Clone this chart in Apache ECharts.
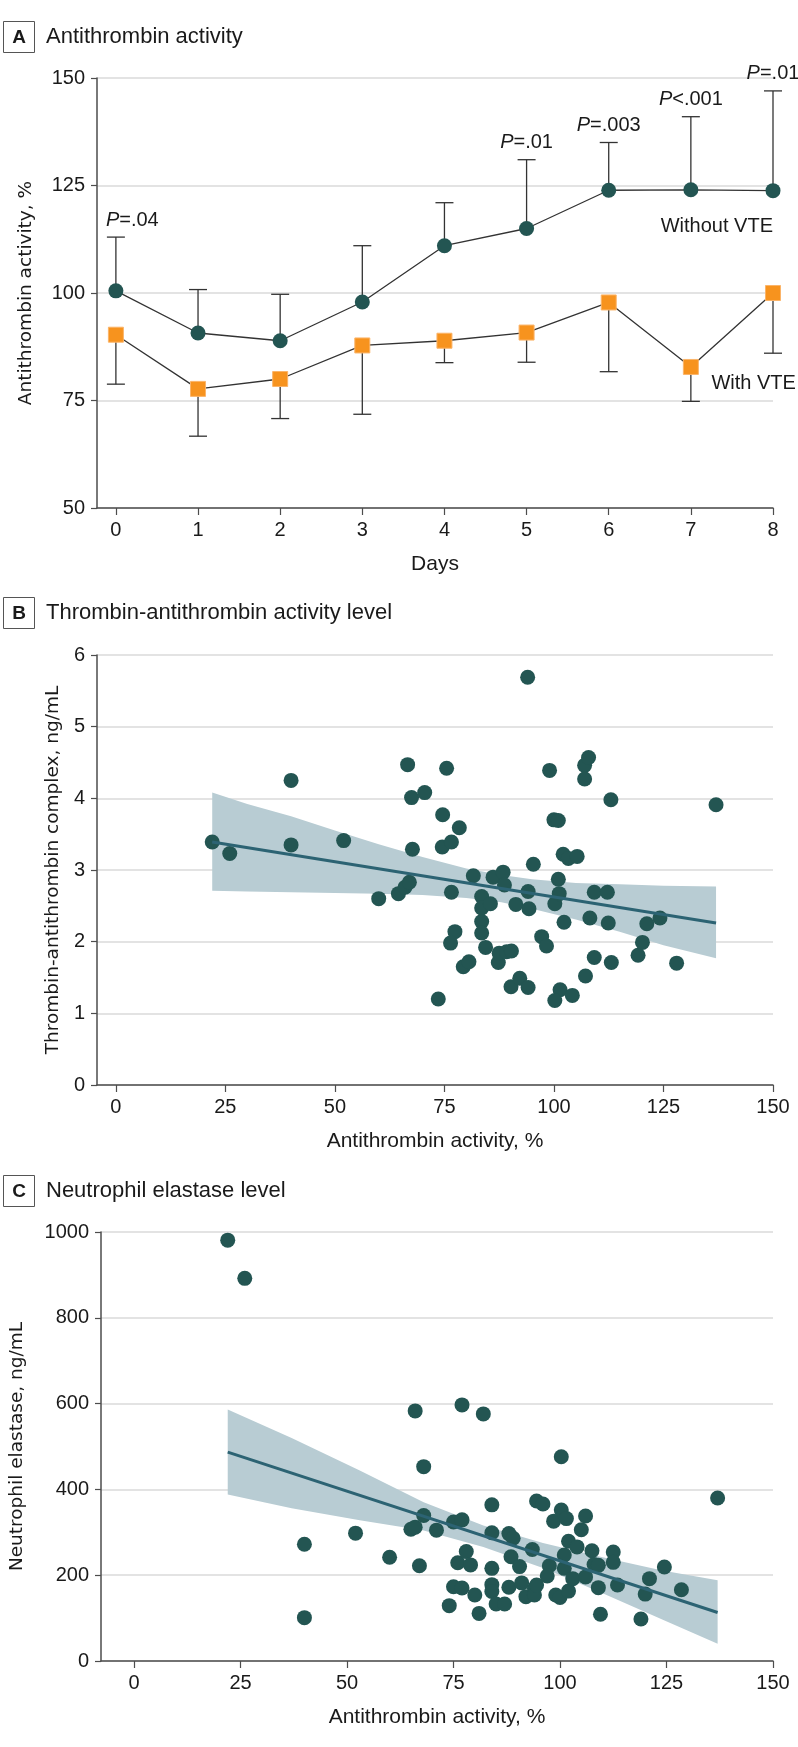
<!DOCTYPE html>
<html><head><meta charset="utf-8">
<script src="https://cdn.jsdelivr.net/npm/echarts@6/dist/echarts.min.js"></script>
<style>html,body{margin:0;padding:0;background:#fff}#c{width:798px;height:1747px}</style>
</head><body><div id="c"></div>
<script>
// ---------- Panel A: antithrombin activity by day ----------
const days = [0, 1, 2, 3, 4, 5, 6, 7, 8];
const withoutVTE = [100.5, 90.7, 88.9, 97.9, 111, 115, 123.9, 124, 123.8];
const withoutVTEUpper = [113, 100.8, 99.7, 111, 121, 131, 135, 141, 147];
const withVTE = [90.3, 77.7, 80, 87.8, 88.9, 90.8, 97.8, 82.8, 100];
const withVTELower = [78.8, 66.7, 70.8, 71.8, 83.8, 83.9, 81.7, 74.8, 86];
const pDays = [0, 5, 6, 7, 8];
const pLabels = ['P=.04', 'P=.01', 'P=.003', 'P<.001', 'P=.01'];
const dayTicks = [0, 1, 2, 3, 4, 5, 6, 7, 8];

// ---------- Panel B: thrombin-antithrombin complex ----------
const tatX = [22, 26, 40, 40, 52, 60, 64.5, 66, 67, 66.6, 67.5, 67.7, 70.5, 73.6, 74.6, 74.5, 75.5, 76.6, 76.6, 77.4, 76.4,
  78.4, 79.3, 80.6, 81.6, 83.5, 83.5, 83.5, 83.5, 85.5, 84.4, 86.1, 88.4, 88.7, 87.3, 87.5, 89.2, 90.3, 90.2, 91.3,
  92.2, 94, 94.1, 94.3, 94.1, 95.3, 97.2, 98.3, 99, 100, 101, 100.2, 101, 101.2, 101.4, 100.2, 102.3, 102.1, 103.3,
  105.3, 104.2, 107, 107.9, 107, 107.2, 109.2, 108.2, 109.2, 112.2, 112.4, 113, 113.1, 119.2, 120.2, 121.2, 124.2, 128, 137];
const tatY = [3.39, 3.23, 4.25, 3.35, 3.41, 2.60, 2.67, 2.76, 2.83, 4.47, 4.01, 3.29, 4.08, 1.20, 3.77, 3.32, 4.42, 3.39, 2.69, 2.14, 1.98,
  3.59, 1.65, 1.72, 2.92, 2.63, 2.47, 2.28, 2.12, 2.53, 1.92, 2.90, 2.97, 2.79, 1.71, 1.84, 1.86, 1.87, 1.37, 2.52,
  1.49, 5.69, 2.70, 2.46, 1.36, 3.08, 2.07, 1.94, 4.39, 3.70, 3.69, 2.53, 2.87, 2.67, 1.33, 1.18, 2.27, 3.22, 3.16,
  3.19, 1.25, 4.46, 4.57, 4.27, 1.52, 2.69, 2.33, 1.78, 2.69, 2.26, 3.98, 1.71, 1.81, 1.99, 2.25, 2.33, 1.70, 3.91];
const tatFitX = [22, 137];
const tatFitY = [3.39, 2.26];
const tatBandX = [22, 30, 40, 50, 60, 70, 80, 88, 95, 105, 115, 125, 137];
const tatBandLo = [2.71, 2.70, 2.69, 2.68, 2.67, 2.65, 2.61, 2.55, 2.46, 2.31, 2.14, 1.95, 1.77];
const tatBandHi = [4.08, 3.92, 3.75, 3.55, 3.36, 3.18, 3.02, 2.93, 2.87, 2.82, 2.80, 2.78, 2.77];
const bTicks = [0, 25, 50, 75, 100, 125, 150];

// ---------- Panel C: neutrophil elastase ----------
const neX = [22, 26, 40, 40, 52, 60, 65, 66, 66, 67, 68, 68, 71, 74, 75, 75, 76, 77, 77, 77, 78, 79, 80, 81, 82,
  84, 84, 84, 84, 84, 85, 87, 88, 89, 88.5, 88, 90.5, 91, 92, 93.5, 94, 94, 94.5, 96, 94.5, 97.5, 97, 98.5, 99, 100,
  100.3, 100.3, 101, 101, 101.5, 102, 102, 103, 104, 105, 106, 106, 107.5, 108, 109, 109, 109.5, 112.5, 112.5, 113.5,
  119, 120, 121, 124.5, 128.5, 137];
const neY = [981, 892, 272, 101, 298, 242, 307, 312, 583, 222, 339, 453, 305, 129, 324, 173, 229, 329, 170, 597, 255, 224, 154, 111, 576,
  364, 299, 216, 178, 162, 133, 133, 297, 286, 243, 172, 220, 182, 150, 260, 169, 154, 373, 366, 177, 222, 198, 326, 154, 148,
  352, 476, 247, 216, 332, 279, 163, 192, 266, 306, 196, 338, 257, 225, 223, 171, 109, 254, 230, 177,
  98, 156, 192, 219, 166, 380];
const neFitX = [22, 137];
const neFitY = [487, 113];
const neBandX = [22, 37, 53, 68, 82, 96, 110, 124, 137];
const neBandLo = [388, 356, 328, 304, 266, 217, 158, 97, 40];
const neBandHi = [586, 520, 444, 370, 316, 275, 242, 211, 188];
const cTicks = [0, 25, 50, 75, 100, 125, 150];

// ---------- styling ----------
const TEAL = '#235552';
const FIT = '#2c6373';
const BAND = '#b8ccd3';
const ORANGE = '#f7931e';
const TXT = '#1a1a1a';
const AX = '#4d4d4d';
const GRID = '#dadada';
const SANS = '"Liberation Sans", Arial, sans-serif';
const WIDE = '"DejaVu Sans", Verdana, sans-serif';

const grids = [
  { left: 97, right: 25, top: 78, height: 430 },
  { left: 97, right: 25, top: 655, height: 430 },
  { left: 97, right: 25, top: 1232, height: 429 }
];

function xAxisCfg(gi, min, max, ticks, name) {
  return {
    type: 'value', gridIndex: gi, min: min, max: max,
    axisLine: { show: true, onZero: false, lineStyle: { color: AX, width: 1.5 } },
    axisTick: { show: true, customValues: ticks, length: 7, lineStyle: { color: AX, width: 1.2 } },
    axisLabel: { customValues: ticks, fontFamily: SANS, fontSize: 20, color: TXT, margin: 12 },
    splitLine: { show: false },
    name: name, nameLocation: 'middle', nameGap: 46,
    nameTextStyle: { fontFamily: SANS, fontSize: 21, color: TXT }
  };
}
function yAxisCfg(gi, min, max, interval, name, gap) {
  return {
    type: 'value', gridIndex: gi, min: min, max: max, interval: interval,
    axisLine: { show: true, onZero: false, lineStyle: { color: AX, width: 1.5 } },
    axisTick: { show: true, length: 6, lineStyle: { color: AX, width: 1.2 } },
    axisLabel: { fontFamily: SANS, fontSize: 20, color: TXT, margin: 12, formatter: function (v) { return String(v); } },
    splitLine: { show: true, lineStyle: { color: GRID, width: 1.5 } },
    name: name, nameLocation: 'middle', nameGap: gap,
    nameTextStyle: { fontFamily: WIDE, fontSize: 18.5, color: TXT }
  };
}

function bandSeries(gi, bx, lo, hi) {
  return {
    type: 'custom', xAxisIndex: gi, yAxisIndex: gi, silent: true, z: 1,
    data: [[bx[0], hi[0]]],
    renderItem: function (params, api) {
      const pts = [];
      for (let i = 0; i < bx.length; i++) pts.push(api.coord([bx[i], hi[i]]));
      for (let i = bx.length - 1; i >= 0; i--) pts.push(api.coord([bx[i], lo[i]]));
      return { type: 'polygon', shape: { points: pts, smooth: 0 }, style: { fill: BAND } };
    }
  };
}
function fitSeries(gi, fx, fy) {
  return {
    type: 'line', xAxisIndex: gi, yAxisIndex: gi, silent: true, z: 4,
    data: fx.map((x, i) => [x, fy[i]]), showSymbol: false, symbol: 'none',
    lineStyle: { color: FIT, width: 3 }
  };
}
function scatterSeries(gi, xs, ys) {
  return {
    type: 'scatter', xAxisIndex: gi, yAxisIndex: gi, silent: true, z: 3,
    data: xs.map((x, i) => [x, ys[i]]), symbolSize: 15,
    itemStyle: { color: TEAL, opacity: 1 }
  };
}
function errorSeries(vals, bounds) {
  return {
    type: 'custom', xAxisIndex: 0, yAxisIndex: 0, silent: true, z: 1,
    data: days.map((d, i) => [d, vals[i], bounds[i]]),
    renderItem: function (params, api) {
      const p0 = api.coord([api.value(0), api.value(1)]);
      const p1 = api.coord([api.value(0), api.value(2)]);
      const st = { stroke: '#333', lineWidth: 1.3 };
      return {
        type: 'group', children: [
          { type: 'line', shape: { x1: p0[0], y1: p0[1], x2: p1[0], y2: p1[1] }, style: st },
          { type: 'line', shape: { x1: p1[0] - 9, y1: p1[1], x2: p1[0] + 9, y2: p1[1] }, style: st }
        ]
      };
    }
  };
}

const pData = pDays.map((d, i) => [d, withoutVTEUpper[days.indexOf(d)], i]);

const option = {
  animation: false,
  backgroundColor: '#fff',
  grid: grids,
  xAxis: [
    xAxisCfg(0, -0.23, 8, dayTicks, 'Days'),
    xAxisCfg(1, -4.3, 150, bTicks, 'Antithrombin activity, %'),
    xAxisCfg(2, -7.75, 150, cTicks, 'Antithrombin activity, %')
  ],
  yAxis: [
    yAxisCfg(0, 50, 150, 25, 'Antithrombin activity, %', 61),
    yAxisCfg(1, 0, 6, 1, 'Thrombin-antithrombin complex, ng/mL', 31),
    yAxisCfg(2, 0, 1000, 200, 'Neutrophil elastase, ng/mL', 74)
  ],
  graphic: [
    { type: 'rect', shape: { x: 3.5, y: 21.5, width: 31, height: 31 }, style: { fill: '#fff', stroke: '#555', lineWidth: 1 } },
    { type: 'text', x: 19, y: 37.5, style: { text: 'A', font: 'bold 19px ' + SANS, fill: TXT, textAlign: 'center', textVerticalAlign: 'middle' } },
    { type: 'text', x: 46, y: 37, style: { text: 'Antithrombin activity', font: '22px ' + SANS, fill: TXT, textAlign: 'left', textVerticalAlign: 'middle' } },
    { type: 'rect', shape: { x: 3.5, y: 597.5, width: 31, height: 31 }, style: { fill: '#fff', stroke: '#555', lineWidth: 1 } },
    { type: 'text', x: 19, y: 613.5, style: { text: 'B', font: 'bold 19px ' + SANS, fill: TXT, textAlign: 'center', textVerticalAlign: 'middle' } },
    { type: 'text', x: 46, y: 613, style: { text: 'Thrombin-antithrombin activity level', font: '22px ' + SANS, fill: TXT, textAlign: 'left', textVerticalAlign: 'middle' } },
    { type: 'rect', shape: { x: 3.5, y: 1175.5, width: 31, height: 31 }, style: { fill: '#fff', stroke: '#555', lineWidth: 1 } },
    { type: 'text', x: 19, y: 1191.5, style: { text: 'C', font: 'bold 19px ' + SANS, fill: TXT, textAlign: 'center', textVerticalAlign: 'middle' } },
    { type: 'text', x: 46, y: 1191, style: { text: 'Neutrophil elastase level', font: '22px ' + SANS, fill: TXT, textAlign: 'left', textVerticalAlign: 'middle' } }
  ],
  series: [
    errorSeries(withoutVTE, withoutVTEUpper),
    errorSeries(withVTE, withVTELower),
    {
      type: 'line', name: 'Without VTE', xAxisIndex: 0, yAxisIndex: 0, z: 3, silent: true,
      data: days.map((d, i) => [d, withoutVTE[i]]),
      symbol: 'circle', symbolSize: 15, showAllSymbol: true,
      lineStyle: { color: '#333', width: 1.3 },
      itemStyle: { color: TEAL }
    },
    {
      type: 'line', name: 'With VTE', xAxisIndex: 0, yAxisIndex: 0, z: 3, silent: true,
      data: days.map((d, i) => [d, withVTE[i]]),
      symbol: 'rect', symbolSize: 15, showAllSymbol: true,
      lineStyle: { color: '#333', width: 1.3 },
      itemStyle: { color: ORANGE, borderColor: '#fbb469', borderWidth: 1 }
    },
    {
      type: 'custom', xAxisIndex: 0, yAxisIndex: 0, silent: true, z: 5,
      data: pData,
      renderItem: function (params, api) {
        const p = api.coord([api.value(0), api.value(1)]);
        const s = pLabels[api.value(2)];
        const first = params.dataIndex === 0;
        return {
          type: 'text', x: first ? p[0] - 10 : p[0], y: p[1] - 17,
          style: {
            text: '{i|' + s.charAt(0) + '}' + s.slice(1),
            font: '20px ' + SANS, fill: TXT,
            textAlign: first ? 'left' : 'center', textVerticalAlign: 'middle',
            rich: { i: { fontStyle: 'italic', fontSize: 20, fontFamily: SANS, fill: TXT } }
          }
        };
      }
    },
    {
      type: 'custom', xAxisIndex: 0, yAxisIndex: 0, silent: true, z: 5,
      data: [[8, 115.4, 0], [7.25, 78.9, 1]],
      renderItem: function (params, api) {
        const p = api.coord([api.value(0), api.value(1)]);
        const right = api.value(2) === 0;
        return {
          type: 'text', x: p[0], y: p[1],
          style: {
            text: right ? 'Without VTE' : 'With VTE', font: '20px ' + SANS, fill: TXT,
            textAlign: right ? 'right' : 'left', textVerticalAlign: 'middle'
          }
        };
      }
    },
    bandSeries(1, tatBandX, tatBandLo, tatBandHi),
    scatterSeries(1, tatX, tatY),
    fitSeries(1, tatFitX, tatFitY),
    bandSeries(2, neBandX, neBandLo, neBandHi),
    scatterSeries(2, neX, neY),
    fitSeries(2, neFitX, neFitY)
  ]
};

const chart = echarts.init(document.getElementById('c'), null, { renderer: 'canvas' });
chart.setOption(option);
</script>
</body></html>
